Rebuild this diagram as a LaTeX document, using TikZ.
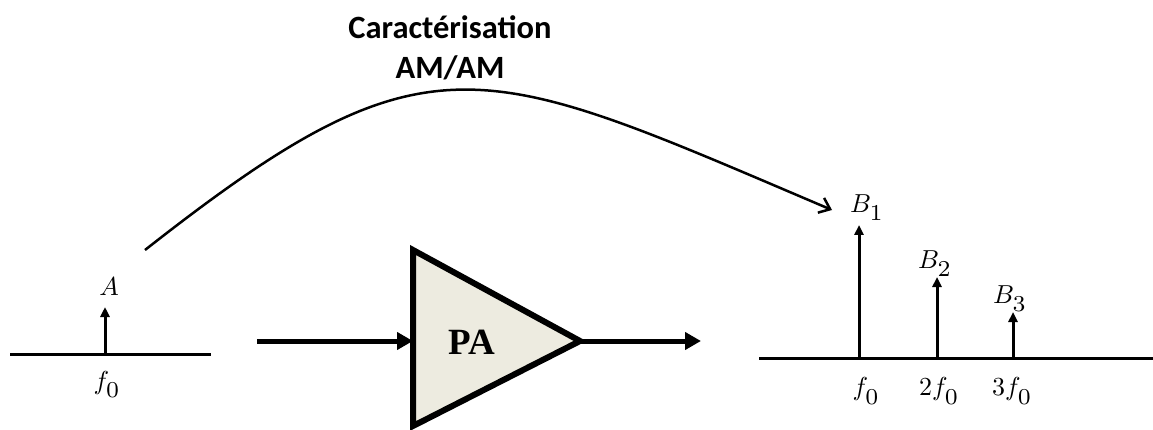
\documentclass[tikz,border=0pt]{standalone}
\usepackage{graphicx}
\usepackage{fontspec}
\newfontfamily\titlefont{Carlito}
\newfontfamily\pafont{Liberation Serif}
\usetikzlibrary{arrows.meta}
\newcommand\mtxt[1]{\scalebox{2.6}{$#1$}}
\newcommand\bigsub[1]{_{\raisebox{-1.6pt}{\scalebox{1.25}{$\scriptstyle #1$}}}}
\begin{document}
\begin{tikzpicture}[x=1pt,y=-1pt,
  axisline/.style={line width=3pt},
  stem/.style={line width=3pt,-{Triangle[length=10pt,width=9pt]}},
  bigarrow/.style={line width=5pt,-{Triangle[length=16pt,width=17pt]}},
  mlabel/.style={inner sep=0pt},
  curvearrow/.style={line width=2.5pt,-{Straight Barb[length=10pt,width=16pt,line width=2.5pt]}}]
\useasboundingbox (0,0) rectangle (1153,430);
% title
\node[font=\titlefont\bfseries\fontsize{32.5}{40}\selectfont,align=center] (title) at (450,48) {Caractérisation\\AM/AM};
% left spectrum
\coordinate (la) at (10,354);
\coordinate (lb) at (211,354);
\draw[axisline] (la) -- (lb);
\coordinate (a0) at (105,354);
\coordinate (a1) at (105,307);
\draw[stem] (a0) -- (a1);
\node[mlabel] (A) at (109,287) {\mtxt{A}};
\node[mlabel] (f0a) at (107,384) {\mtxt{f\bigsub{0}}};
% PA
\coordinate (t1) at (413,250);
\coordinate (t2) at (413,426);
\coordinate (t3) at (580,341);
\draw[line width=6pt,line join=miter,fill={rgb,255:red,237;green,235;blue,224}] (t1) -- (t3) -- (t2) -- cycle;
\node[font=\pafont\bfseries\fontsize{37}{40}\selectfont] (PA) at (472,342) {PA};
\coordinate (in) at (257,341);
\coordinate (inend) at (413,341);
\draw[bigarrow] (in) -- (inend);
\coordinate (out) at (701,341);
\draw[bigarrow] (t3) -- (out);
% right spectrum
\coordinate (ra) at (759,358);
\coordinate (rb) at (1153,358);
\draw[axisline] (ra) -- (rb);
\coordinate (b1s) at (859,358); \coordinate (b1e) at (859,225);
\coordinate (b2s) at (937,358); \coordinate (b2e) at (937,277);
\coordinate (b3s) at (1013,358); \coordinate (b3e) at (1013,312);
\draw[stem] (b1s) -- (b1e);
\draw[stem] (b2s) -- (b2e);
\draw[stem] (b3s) -- (b3e);
\node[mlabel] (B1) at (867,208) {\mtxt{B\bigsub{1}}};
\node[mlabel] (B2) at (935,264) {\mtxt{B\bigsub{2}}};
\node[mlabel] (B3) at (1010,299) {\mtxt{B\bigsub{3}}};
\node[mlabel] (f0b) at (866,391) {\mtxt{f\bigsub{0}}};
\node[mlabel] (f2b) at (939,391) {\mtxt{2f\bigsub{0}}};
\node[mlabel] (f3b) at (1012,391) {\mtxt{3f\bigsub{0}}};
% curve
\coordinate (cs) at (145,250);
\coordinate (ce) at (832,210);
\draw[curvearrow] (cs) .. controls (430,26) and (479,60) .. (ce);
\end{tikzpicture}
\end{document}
